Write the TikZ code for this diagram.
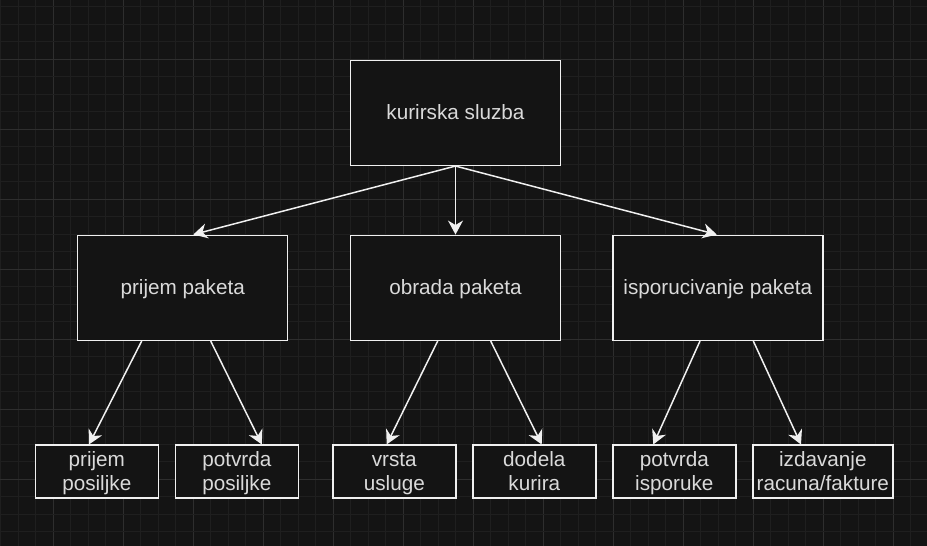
\documentclass[tikz,border=0pt]{standalone}
\usepackage{fontspec}
\setmainfont{Liberation Sans}
\usetikzlibrary{arrows.meta}
\definecolor{bgc}{HTML}{141414}
\definecolor{gridminor}{HTML}{1F1F1F}
\definecolor{gridmajor}{HTML}{2E2E2E}
\definecolor{strokec}{HTML}{F0F0F0}
\definecolor{textc}{HTML}{DADADA}
\newcommand{\mystrut}{\rule[-5pt]{0pt}{23.9pt}}
\tikzset{
  box/.style={draw=strokec, line width=1.5pt, fill=bgc, rectangle, inner sep=0pt,
    text=textc, align=center, font=\fontsize{20.7}{24}\selectfont},
  conn/.style={draw=strokec, line width=1.5pt,
    -{Stealth[length=14pt, width=15pt, inset=4.5pt, fill=strokec]}},
}
\begin{document}
\begin{tikzpicture}[x=1pt, y=-1pt]
\useasboundingbox (0,0) rectangle (927,546);
\fill[bgc] (0,0) rectangle (927,546);
% grid
\foreach \k in {0,...,53} {
  \pgfmathtruncatemacro{\m}{mod(\k+1,4)}
  \pgfmathsetmacro{\xx}{0.8+17.5*\k}
  \ifnum\m=0
    \draw[gridmajor, line width=1pt] (\xx,0) -- (\xx,546);
  \else
    \draw[gridminor, line width=1pt] (\xx,0) -- (\xx,546);
  \fi
}
\foreach \k in {0,...,31} {
  \pgfmathtruncatemacro{\m}{mod(\k+1,4)}
  \pgfmathsetmacro{\yy}{6.8+17.5*\k}
  \ifnum\m=0
    \draw[gridmajor, line width=1pt] (0,\yy) -- (927,\yy);
  \else
    \draw[gridminor, line width=1pt] (0,\yy) -- (927,\yy);
  \fi
}
% nodes
\node[box, minimum width=210pt, minimum height=105pt] (top) at (455.5,112.8) {\mystrut kurirska sluzba};
\node[box, minimum width=210pt, minimum height=105pt] (pp) at (182.7,287.8) {\mystrut prijem paketa};
\node[box, minimum width=210pt, minimum height=105pt] (op) at (455.5,287.8) {\mystrut obrada paketa};
\node[box, minimum width=210pt, minimum height=105pt] (ip) at (717.8,287.8) {\mystrut isporucivanje paketa};
\node[box, minimum width=123pt, minimum height=53pt] (b1) at (96.8,471.7) {\mystrut prijem\\\mystrut posiljke};
\node[box, minimum width=123pt, minimum height=53pt] (b2) at (236.8,471.7) {\mystrut potvrda\\\mystrut posiljke};
\node[box, minimum width=123pt, minimum height=53pt] (b3) at (394.3,471.7) {\mystrut vrsta\\\mystrut usluge};
\node[box, minimum width=123pt, minimum height=53pt] (b4) at (534.3,471.7) {\mystrut dodela\\\mystrut kurira};
\node[box, minimum width=123pt, minimum height=53pt] (b5) at (674.3,471.7) {\mystrut potvrda\\\mystrut isporuke};
\node[box, minimum width=140pt, minimum height=53pt] (b6) at (822.8,471.7) {\mystrut izdavanje\\\mystrut racuna/fakture};
% connectors
\draw[conn] (top.south) -- ([xshift=10.6pt]pp.north);
\draw[conn] (top.south) -- (op.north);
\draw[conn] (top.south) -- ([xshift=-1pt]ip.north);
\draw[conn] ([xshift=-41pt]pp.south) -- ([xshift=-7.8pt]b1.north);
\draw[conn] ([xshift=28pt]pp.south) -- ([xshift=25pt]b2.north);
\draw[conn] ([xshift=-17.8pt]op.south) -- ([xshift=-7.6pt]b3.north);
\draw[conn] ([xshift=35.2pt]op.south) -- ([xshift=7.4pt]b4.north);
\draw[conn] ([xshift=-17.8pt]ip.south) -- ([xshift=-21pt]b5.north);
\draw[conn] ([xshift=35.5pt]ip.south) -- ([xshift=-21.8pt]b6.north);
\end{tikzpicture}
\end{document}
